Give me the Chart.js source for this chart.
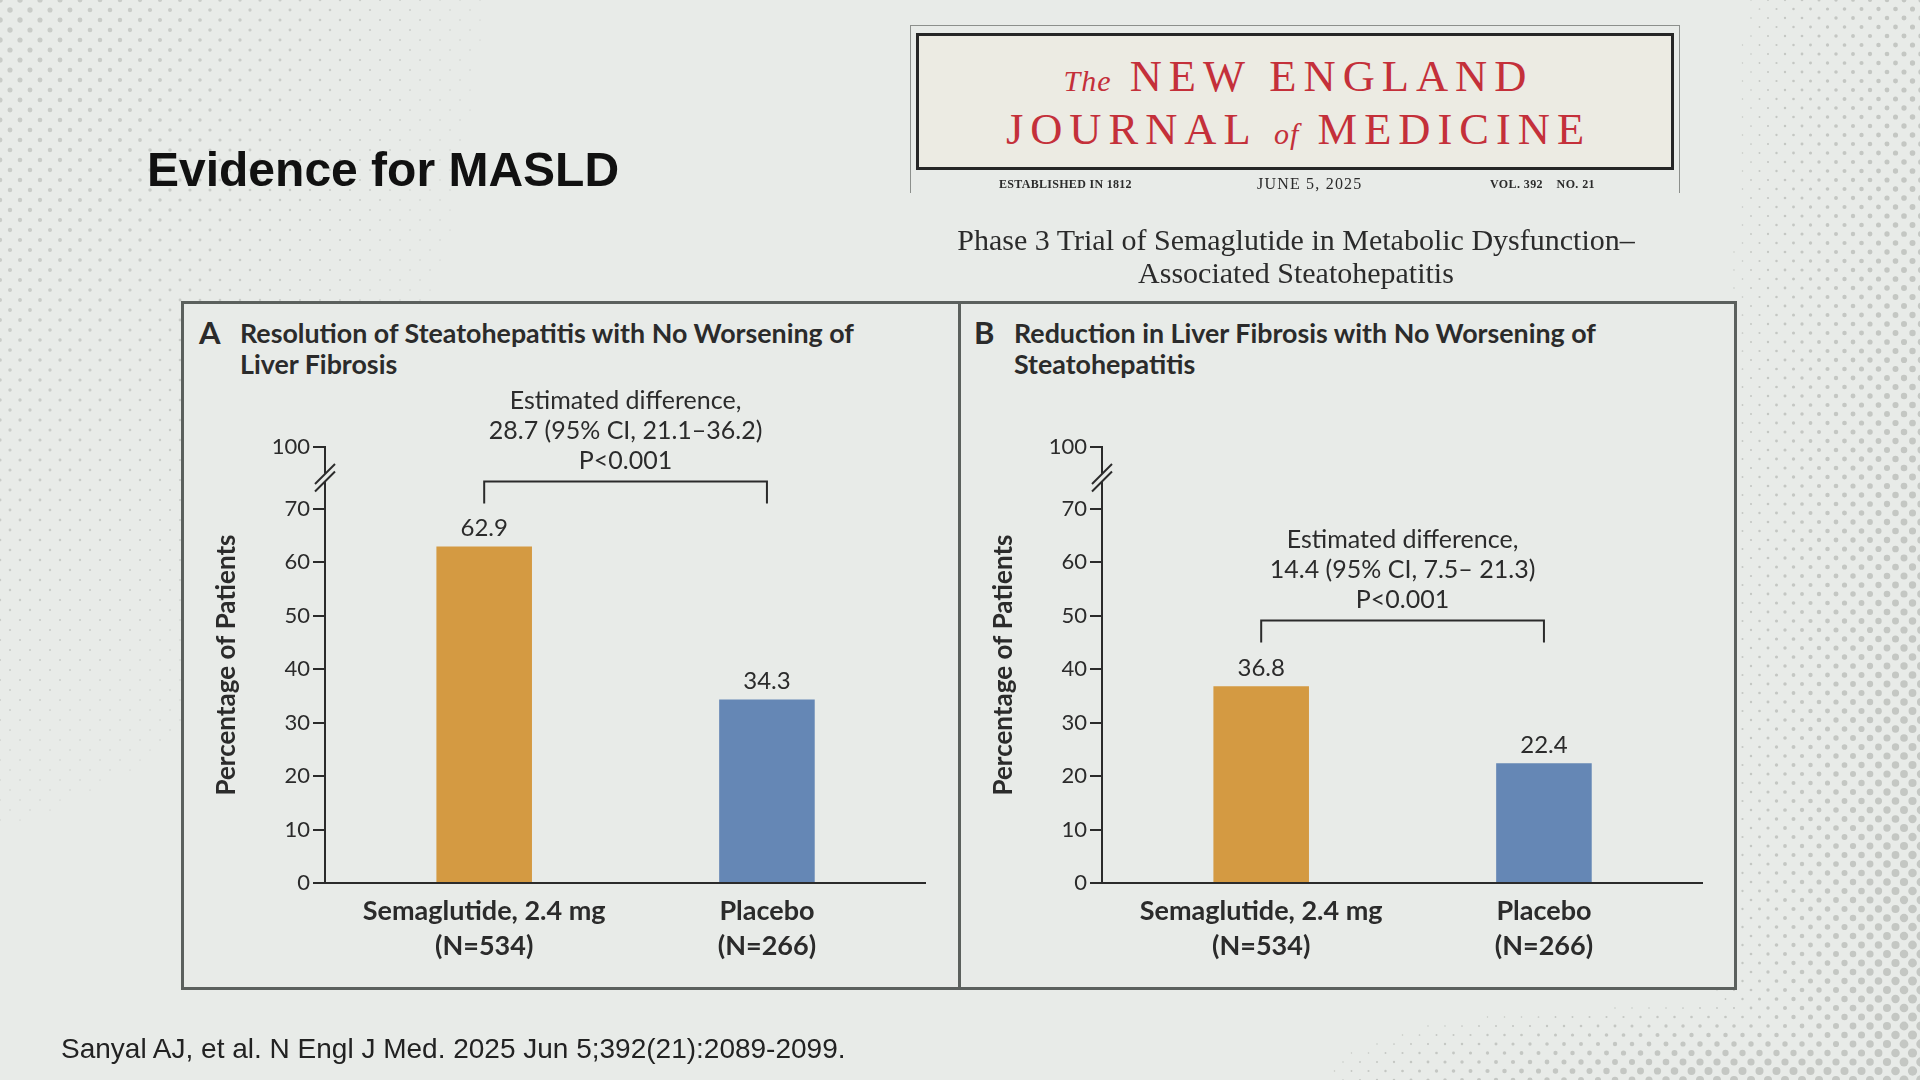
<!DOCTYPE html>
<html>
<head>
<meta charset="utf-8">
<script src="https://cdn.jsdelivr.net/npm/chart.js@4.4.1/dist/chart.umd.min.js"></script>
<style>
  html, body { margin: 0; padding: 0; }
  body {
    width: 1920px; height: 1080px; position: relative; overflow: hidden;
    background: #e8ebe8; color: #2b2b2b; font-family: Lato, "Noto Sans", sans-serif;
  }
  #dots { position: absolute; left: 0; top: 0; }
  .slide-title {
    position: absolute; left: 147px; top: 142px; line-height: 48px;
    font: bold 48px "Liberation Sans", Arial, sans-serif; color: #111; white-space: nowrap;
  }
  .cite {
    position: absolute; left: 61px; top: 1033px; line-height: 28px;
    font: 28px "Liberation Sans", Arial, sans-serif; color: #222; white-space: nowrap;
  }
  .nejm-frame {
    position: absolute; left: 910px; top: 25px; width: 770px; height: 168px;
    border: 1.5px solid #8c8f8c; border-bottom: none; box-sizing: border-box;
  }
  .nejm-box {
    position: absolute; left: 916px; top: 33px; width: 758px; height: 137px;
    border: 3px solid #262626; box-sizing: border-box; background: #ecebe3;
  }
  .nejm-name {
    position: absolute; left: 916px; top: 52.4px; width: 758px; text-align: center;
    font-family: "Liberation Serif", serif; color: #c4303a; font-size: 44.5px;
    line-height: 48px; letter-spacing: 7px; padding-left: 7px; box-sizing: border-box;
    white-space: nowrap;
  }
  .nejm-name i { font-size: 30px; letter-spacing: 1px; }
  .nejm-meta {
    position: absolute; top: 175px; line-height: 18px; white-space: nowrap;
    font-family: "Liberation Serif", serif; color: #2b2b2b;
  }
  .subtitle {
    position: absolute; left: 846px; top: 223px; width: 900px; text-align: center;
    font: 30px "Liberation Serif", serif; line-height: 33px; color: #2b2b2b;
  }
  .panel-box {
    position: absolute; left: 180.5px; top: 300.5px; width: 1556px; height: 689px;
    border: 3px solid #5b605d; box-sizing: border-box; background: #e8ebe8;
  }
  .panel-divider { position: absolute; left: 957.5px; top: 302px; width: 3px; height: 686px; background: #5b605d; }
  .panel-letter { position: absolute; top: 316.5px; font: bold 31px Lato, sans-serif; line-height: 31px; color: #2b2b2b; }
  .panel-heading { position: absolute; top: 318px; font: bold 26.8px Lato, sans-serif; line-height: 31px; color: #2b2b2b; white-space: nowrap; }
  canvas.panel { position: absolute; top: 302px; }
</style>
</head>
<body>
<canvas id="dots" width="1920" height="1080"></canvas>

<div class="slide-title">Evidence for MASLD</div>

<div class="nejm-frame"></div>
<div class="nejm-box"></div>
<div class="nejm-name"><i>The</i> NEW ENGLAND<br>JOURNAL <i>of</i> MEDICINE</div>
<div class="nejm-meta" style="left:999px;font-size:12px;font-weight:bold;letter-spacing:0.3px;">ESTABLISHED IN 1812</div>
<div class="nejm-meta" style="left:1257px;font-size:16px;letter-spacing:1.2px;">JUNE 5, 2025</div>
<div class="nejm-meta" style="left:1490px;font-size:12px;font-weight:bold;letter-spacing:0.4px;">VOL. 392&nbsp;&nbsp;&nbsp;&nbsp;NO. 21</div>

<div class="subtitle">Phase 3 Trial of Semaglutide in Metabolic Dysfunction–<br>Associated Steatohepatitis</div>

<div class="panel-box"></div>
<div class="panel-divider"></div>

<div class="panel-letter" style="left:199px;">A</div>
<div class="panel-heading" style="left:240px;">Resolution of Steatohepatitis with No Worsening of<br>Liver Fibrosis</div>
<div class="panel-letter" style="left:974px;">B</div>
<div class="panel-heading" style="left:1014px;">Reduction in Liver Fibrosis with No Worsening of<br>Steatohepatitis</div>

<canvas id="chartA" class="panel" width="777" height="686" style="left:182px;"></canvas>
<canvas id="chartB" class="panel" width="777" height="686" style="left:959px;"></canvas>

<div class="cite">Sanyal AJ, et al. N Engl J Med. 2025 Jun 5;392(21):2089-2099.</div>

<script>
// data
const groups = [['Semaglutide, 2.4 mg', '(N=534)'], ['Placebo', '(N=266)']];
const resolutionPct = [62.9, 34.3];
const fibrosisPct = [36.8, 22.4];
const barColors = ['#d49a42', '#6587b5'];
const yTicks = [0, 10, 20, 30, 40, 50, 60, 70];
const yTopLabel = '100';
const diffA = ['Estimated difference,', '28.7 (95% CI, 21.1–36.2)', 'P<0.001'];
const diffB = ['Estimated difference,', '14.4 (95% CI, 7.5– 21.3)', 'P<0.001'];

// axis is broken between 70 and 100, so "100" sits just above 70
const axisTop = 81.5;
const ink = '#2b2b2b';
const bg = '#e8ebe8';
const font = 'Lato, "Noto Sans", sans-serif';

// decorative dot pattern of the slide
function drawDots() {
  const ctx = document.getElementById('dots').getContext('2d');
  const clamp = v => Math.max(0, Math.min(1, v));
  ctx.fillStyle = '#c4c7c3';
  for (let row = 0; row * 9 < 1090; row++) {
    const y = row * 9;
    for (let x = (row % 2) * 8.5; x < 1930; x += 17) {
      const right = clamp((x - 1680) / 240) * (2.6 + 2.2 * y / 1080);
      const bottom = clamp((y - 990) / 80) * clamp((x - 1250) / 450) * 4;
      const r = Math.max(right, bottom);
      if (r > 0.7) {
        ctx.beginPath(); ctx.arc(x, y, r, 0, Math.PI * 2); ctx.fill();
      }
    }
  }
  ctx.fillStyle = '#c9ccc8';
  for (let row = 0; row * 10 < 1050; row++) {
    const y = row * 10;
    for (let x = (row % 2) * 10; x < 700; x += 20) {
      const r = 2.8 * clamp(1 - x / 620) * clamp(1 - y / 1060);
      if (r > 0.6) {
        ctx.beginPath(); ctx.arc(x, y, r, 0, Math.PI * 2); ctx.fill();
      }
    }
  }
}

// bar values, difference bracket and the axis break
const panelMarks = {
  id: 'panelMarks',
  afterDraw(chart, args, opts) {
    const ctx = chart.ctx;
    const yScale = chart.scales.y;
    const bars = chart.getDatasetMeta(0).data;
    ctx.save();

    ctx.fillStyle = ink;
    ctx.font = '24px ' + font;
    ctx.textAlign = 'center';
    ctx.textBaseline = 'middle';
    bars.forEach((bar, i) => {
      ctx.fillText(chart.data.datasets[0].data[i].y.toFixed(1), bar.x, bar.y - 18);
    });

    const x0 = bars[0].x, x1 = bars[1].x;
    const yb = Math.round(yScale.getPixelForValue(opts.level)) + 0.5;
    ctx.strokeStyle = ink;
    ctx.lineWidth = 2;
    ctx.beginPath();
    ctx.moveTo(x0, yb + 22); ctx.lineTo(x0, yb); ctx.lineTo(x1, yb); ctx.lineTo(x1, yb + 22);
    ctx.stroke();

    ctx.font = '25px ' + font;
    const n = opts.text.length;
    opts.text.forEach((line, i) => {
      ctx.fillText(line, (x0 + x1) / 2, yb - 21 - (n - 1 - i) * 30);
    });

    const ax = chart.chartArea.left;
    const mid = (yScale.getPixelForValue(yTicks[yTicks.length - 1]) + yScale.getPixelForValue(axisTop)) / 2;
    ctx.fillStyle = bg;
    ctx.fillRect(ax - 3, mid - 4, 6, 8);
    ctx.lineWidth = 2;
    [-3.7, 3.7].forEach(d => {
      ctx.beginPath();
      ctx.moveTo(ax - 10, mid + d + 10);
      ctx.lineTo(ax + 10, mid + d - 10);
      ctx.stroke();
    });
    ctx.restore();
  }
};

function createPanel(canvasId, values, diffText, bracketLevel) {
  return new Chart(document.getElementById(canvasId), {
    type: 'bar',
    data: {
      datasets: [{
        data: values.map((v, i) => ({ x: i, y: v })),
        backgroundColor: barColors,
        borderWidth: 0,
        categoryPercentage: 1,
        barPercentage: 0.338
      }]
    },
    plugins: [panelMarks],
    options: {
      responsive: false,
      animation: false,
      events: [],
      layout: { padding: { top: 145, right: 34, left: 0, bottom: 0 } },
      scales: {
        x: {
          type: 'linear',
          offset: false,
          min: -0.563,
          max: 1.559,
          afterBuildTicks: scale => { scale.ticks = groups.map((g, i) => ({ value: i })); },
          afterFit: scale => { scale.height = 105; },
          grid: { display: false, drawTicks: false },
          border: { display: true, color: ink, width: 2 },
          ticks: {
            autoSkip: false,
            maxRotation: 0,
            padding: 11,
            color: ink,
            font: { family: font, size: 27, weight: 'bold', lineHeight: 1.3 },
            callback: value => groups[value]
          }
        },
        y: {
          min: 0,
          max: axisTop,
          afterBuildTicks: scale => { scale.ticks = [...yTicks, axisTop].map(v => ({ value: v })); },
          afterFit: scale => { scale.width = 143; },
          grid: { display: true, drawOnChartArea: false, drawTicks: true, tickLength: 12, color: ink, lineWidth: 2 },
          border: { display: true, color: ink, width: 2 },
          ticks: {
            autoSkip: false,
            padding: 3,
            color: ink,
            font: { family: font, size: 22 },
            callback: value => value === axisTop ? yTopLabel : String(value)
          },
          title: {
            display: true,
            text: 'Percentage of Patients',
            color: ink,
            font: { family: font, size: 26, weight: 'bold', lineHeight: 1.2 },
            padding: { top: 29, bottom: 0 }
          }
        }
      },
      plugins: {
        legend: { display: false },
        tooltip: { enabled: false },
        panelMarks: { text: diffText, level: bracketLevel }
      }
    }
  });
}

drawDots();
createPanel('chartA', resolutionPct, diffA, 75.1);
createPanel('chartB', fibrosisPct, diffB, 49.2);
</script>
</body>
</html>
